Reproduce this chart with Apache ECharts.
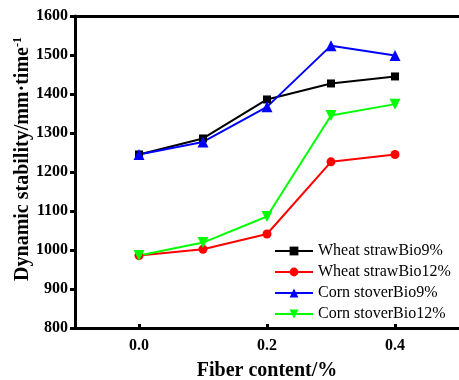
<!DOCTYPE html>
<html>
<head>
<meta charset="utf-8">
<script src="https://cdn.jsdelivr.net/npm/echarts@6/dist/echarts.min.js"></script>
<style>
  html, body { margin: 0; padding: 0; background: #fff; }
  #chart { width: 459px; height: 380px; }
</style>
</head>
<body>
<div id="chart"></div>
<script>
// Fiber content (%) on the x axis
const fiberContent = [0.0, 0.1, 0.2, 0.3, 0.4];

// Dynamic stability per mix
const wheatBio9 = [1245, 1286, 1386, 1427, 1445];
const wheatBio12 = [986, 1002, 1041, 1226, 1245];
const cornBio9 = [1245, 1277, 1367, 1524, 1499];
const cornBio12 = [986, 1019, 1086, 1345, 1374];

const seriesNames = ['Wheat strawBio9%', 'Wheat strawBio12%', 'Corn stoverBio9%', 'Corn stoverBio12%'];
const xTickValues = [0.0, 0.2, 0.4];

const serif = '"Liberation Serif", "Times New Roman", serif';

function pairs(values) {
  return fiberContent.map((x, i) => [x, values[i]]);
}

function lineSeries(name, values, color, symbol, size, rotate) {
  return {
    name: name,
    type: 'line',
    data: pairs(values),
    symbol: symbol,
    symbolSize: size,
    symbolRotate: rotate || 0,
    showAllSymbol: true,
    lineStyle: { color: color, width: 2 },
    itemStyle: { color: color },
    emphasis: { disabled: true },
    z: 3
  };
}

const chart = echarts.init(document.getElementById('chart'), null, { renderer: 'canvas' });

chart.setOption({
  animation: false,
  backgroundColor: '#fff',
  grid: { left: 75, right: 0, top: 16, bottom: 52, containLabel: false, outerBoundsMode: 'none' },
  legend: {
    orient: 'vertical',
    left: 274,
    top: 243,
    itemWidth: 38,
    itemHeight: 11,
    itemGap: 5,
    padding: 0,
    textStyle: { fontFamily: serif, fontSize: 16, color: '#000', lineHeight: 16 },
    data: seriesNames
  },
  xAxis: [{
    type: 'value',
    min: -0.1,
    max: 0.5,
    splitLine: { show: false },
    axisLine: { onZero: false, lineStyle: { color: '#000', width: 3 } },
    axisTick: { show: true, inside: true, length: 4, customValues: xTickValues, lineStyle: { color: '#000', width: 3 } },
    axisLabel: {
      customValues: xTickValues,
      formatter: v => v.toFixed(1),
      fontFamily: serif, fontWeight: 'bold', fontSize: 16, color: '#000', margin: 10
    },
    name: 'Fiber content/%',
    nameLocation: 'middle',
    nameGap: 33,
    nameTextStyle: { fontFamily: serif, fontWeight: 'bold', fontSize: 20, color: '#000' }
  }, {
    type: 'value',
    position: 'top',
    min: -0.1,
    max: 0.5,
    splitLine: { show: false },
    axisLine: { show: true, onZero: false, lineStyle: { color: '#000', width: 3 } },
    axisTick: { show: false },
    axisLabel: { show: false }
  }],
  yAxis: {
    type: 'value',
    min: 800,
    max: 1600,
    interval: 100,
    splitLine: { show: false },
    axisLine: { show: true, onZero: false, lineStyle: { color: '#000', width: 3 } },
    axisTick: { show: true, length: 5, lineStyle: { color: '#000', width: 3 } },
    axisLabel: {
      formatter: v => String(v),
      fontFamily: serif, fontWeight: 'bold', fontSize: 16, color: '#000', margin: 7
    },
    name: '{a|Dynamic stability/mm·time}{b|-1}',
    nameLocation: 'middle',
    nameMoveOverlap: false,
    nameGap: 42,
    nameTextStyle: {
      padding: [0, 0, 0, 26],
      rich: {
        a: { fontFamily: serif, fontWeight: 'bold', fontSize: 20, color: '#000' },
        b: { fontFamily: serif, fontWeight: 'bold', fontSize: 12, color: '#000', verticalAlign: 'top', padding: [0, 0, 9, 0] }
      }
    }
  },
  series: [
    lineSeries(seriesNames[0], wheatBio9, '#000000', 'rect', 8),
    lineSeries(seriesNames[1], wheatBio12, '#ff0000', 'circle', 9),
    lineSeries(seriesNames[2], cornBio9, '#0000ff', 'triangle', 11),
    lineSeries(seriesNames[3], cornBio12, '#00ff00', 'triangle', 11, 180)
  ]
});
</script>
</body>
</html>
